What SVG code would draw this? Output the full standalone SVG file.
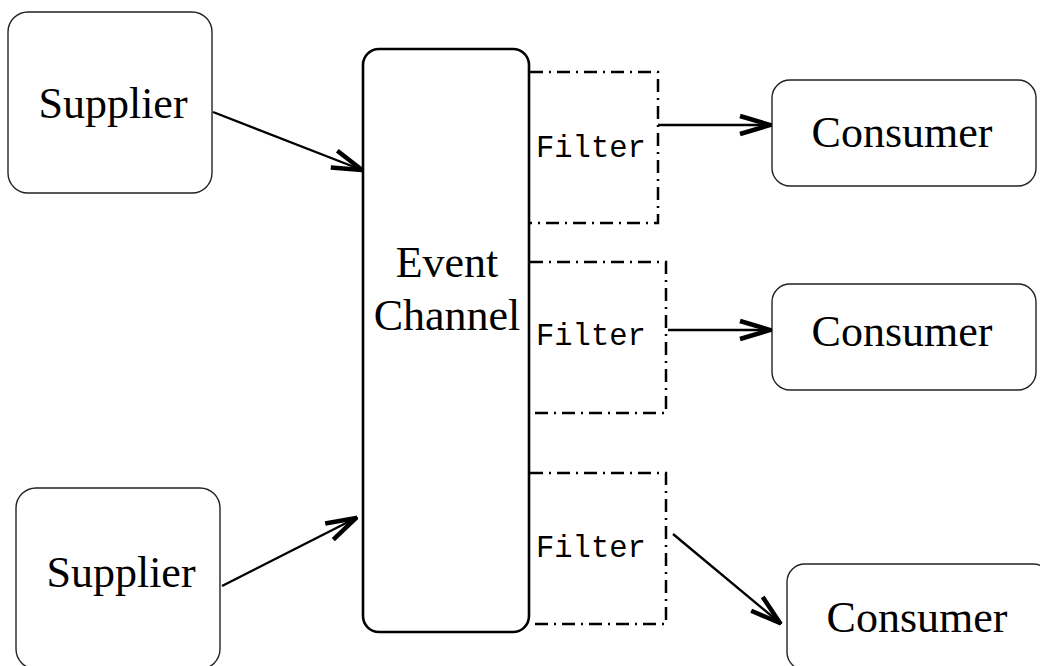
<svg xmlns="http://www.w3.org/2000/svg" width="1040" height="666" viewBox="0 0 1040 666">
<defs>
<style>
.box{fill:#fff;stroke:#222;stroke-width:1.4}
.chan{fill:#fff;stroke:#000;stroke-width:2.6}
.filt{fill:none;stroke:#000;stroke-width:2.5;stroke-dasharray:13 6 2 6}
.lbl{font-family:"Liberation Serif","Times New Roman",serif;font-size:44px;fill:#000;text-anchor:middle}
.mono{font-family:"Liberation Mono","Courier New",monospace;font-size:30.5px;fill:#000}
.conn{stroke:#000;stroke-width:2.4;fill:none}
</style>
<marker id="arr" viewBox="-34 -12 36 24" refX="0" refY="0" markerWidth="36" markerHeight="24" markerUnits="userSpaceOnUse" orient="auto">
<path d="M-30,-9 L0,0 L-30,9" fill="none" stroke="#000" stroke-width="4.5" stroke-linejoin="miter" stroke-miterlimit="10"/>
</marker>
</defs>
<rect width="1040" height="666" fill="#fff"/>
<g id="supplier1">
<rect class="box" x="8" y="12" width="204" height="181" rx="20"/>
<text class="lbl" x="113" y="118">Supplier</text>
</g>
<g id="supplier2">
<rect class="box" x="16" y="488" width="204" height="181" rx="20"/>
<text class="lbl" x="121" y="587">Supplier</text>
</g>
<g id="channel">
<rect class="chan" x="363" y="49" width="166" height="583" rx="16"/>
<text class="lbl" x="447" y="277">Event</text>
<text class="lbl" x="447" y="330">Channel</text>
</g>
<g id="filter1">
<path class="filt" d="M530,72 H658 V223 H530"/>
<text class="mono" x="536" y="157">Filter</text>
</g>
<g id="filter2">
<path class="filt" d="M530,262 H666 V413 H530"/>
<text class="mono" x="536" y="345">Filter</text>
</g>
<g id="filter3">
<path class="filt" d="M530,473 H666 V624 H530"/>
<text class="mono" x="536" y="557">Filter</text>
</g>
<g id="consumer1">
<rect class="box" x="772" y="80" width="264" height="106" rx="18"/>
<text class="lbl" x="902" y="147">Consumer</text>
</g>
<g id="consumer2">
<rect class="box" x="772" y="284" width="264" height="106" rx="18"/>
<text class="lbl" x="902" y="346">Consumer</text>
</g>
<g id="consumer3">
<rect class="box" x="787" y="564" width="264" height="106" rx="18"/>
<text class="lbl" x="917" y="632">Consumer</text>
</g>
<g id="connectors">
<line class="conn" x1="213" y1="112" x2="362" y2="170" marker-end="url(#arr)"/>
<line class="conn" x1="222" y1="586" x2="356" y2="518" marker-end="url(#arr)"/>
<line class="conn" x1="658" y1="125" x2="770" y2="125" marker-end="url(#arr)"/>
<line class="conn" x1="668" y1="330" x2="770" y2="330" marker-end="url(#arr)"/>
<line class="conn" x1="673" y1="534" x2="780" y2="623" marker-end="url(#arr)"/>
</g>
</svg>
